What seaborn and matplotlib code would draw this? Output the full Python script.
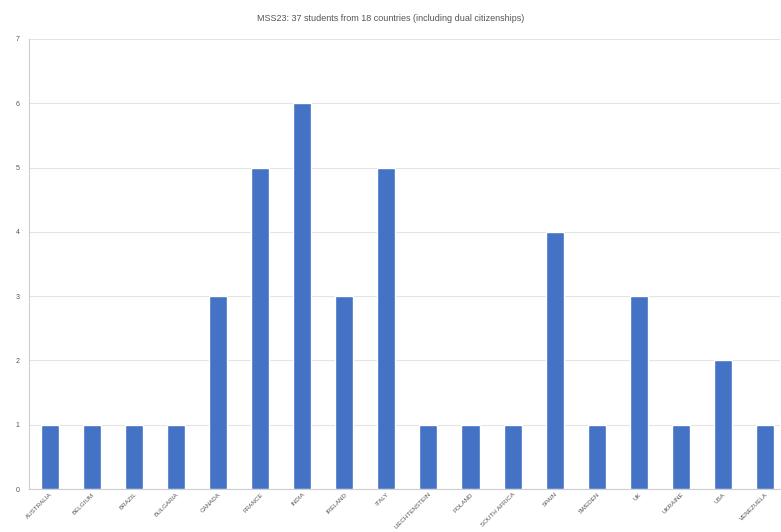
import matplotlib
matplotlib.use("Agg")
import matplotlib.pyplot as plt
import seaborn as sns
import pandas as pd

countries = ["AUSTRALIA", "BELGIUM", "BRAZIL", "BULGARIA", "CANADA", "FRANCE",
             "INDIA", "IRELAND", "ITALY", "LIECHTENSTEIN", "POLAND", "SOUTH AFRICA",
             "SPAIN", "SWEDEN", "UK", "UKRAINE", "USA", "VENEZUELA"]
students = [1, 1, 1, 1, 3, 5, 6, 3, 5, 1, 1, 1, 4, 1, 3, 1, 2, 1]
y_ticks = [0, 1, 2, 3, 4, 5, 6, 7]
title = "MSS23: 37 students from 18 countries (including dual citizenships)"

df = pd.DataFrame({"country": countries, "students": students})

sns.set_theme(style="white")
plt.rcParams["font.family"] = ["Liberation Sans", "DejaVu Sans"]

fig = plt.figure(figsize=(7.81, 5.32), dpi=100)
ax = fig.add_axes([0.0371, 0.0808, 0.9616, 0.846])

sns.barplot(data=df, x="country", y="students", color="#4472C4",
            width=0.43, saturation=1, ax=ax, zorder=3)

ax.set_ylim(0, 7)
ax.set_xlim(-0.5, len(countries) - 0.64)
ax.set_yticks(y_ticks)
ax.yaxis.grid(True, color="#e4e4e4", linewidth=0.8, zorder=0)
ax.set_xlabel("")
ax.set_ylabel("")
ax.tick_params(axis="y", labelsize=5, colors="#555555", length=0, pad=7)
ax.tick_params(axis="x", labelsize=4.5, colors="#555555", length=0, pad=2)
plt.setp(ax.get_xticklabels(), rotation=45, ha="right", rotation_mode="anchor")

for side in ("top", "right"):
    ax.spines[side].set_visible(False)
for side in ("left", "bottom"):
    ax.spines[side].set_color("#cfcfcf")
    ax.spines[side].set_linewidth(0.8)

fig.text(0.5, 0.965, title, ha="center", va="center", fontsize=6.5, color="#555555")

fig.savefig("out.png", dpi=100)
